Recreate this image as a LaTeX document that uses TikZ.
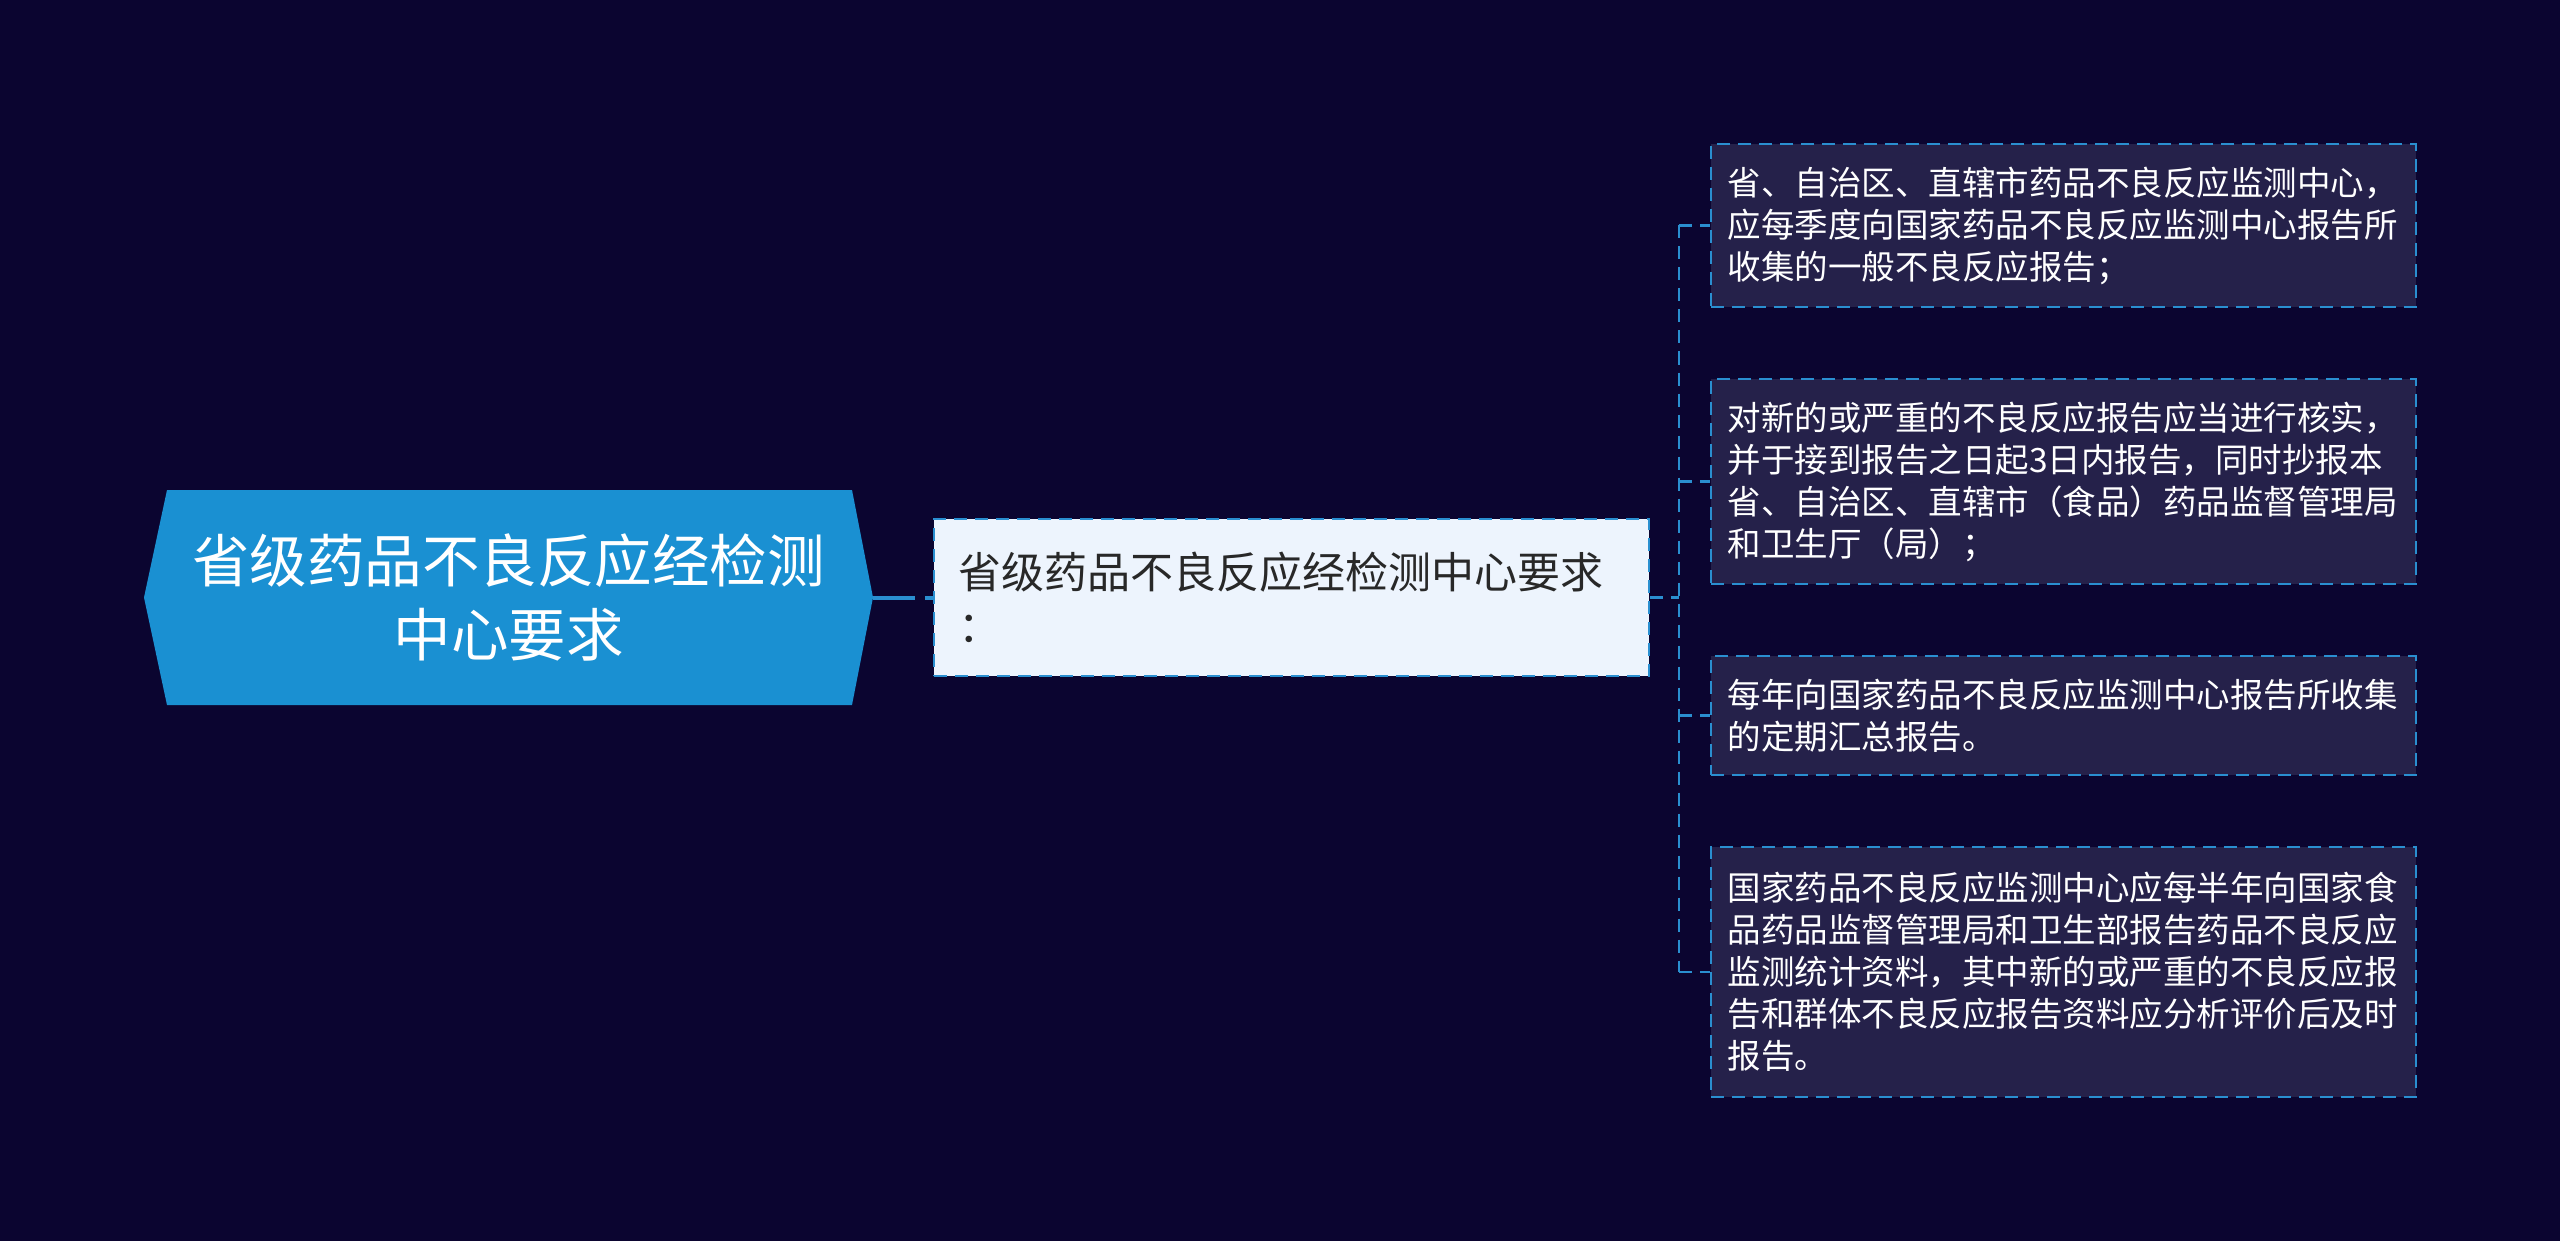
\documentclass[tikz,border=0pt]{standalone}
\usepackage{fontspec}
\newfontfamily\cjk{Noto Sans CJK SC}
\definecolor{bg}{RGB}{11,5,48}
\definecolor{rootblue}{RGB}{26,144,210}
\definecolor{midfill}{RGB}{237,244,253}
\definecolor{boxfill}{RGB}{37,33,74}
\definecolor{lineblue}{RGB}{42,143,208}
\definecolor{darktext}{RGB}{40,40,40}
\tikzset{
  rootnode/.style={draw=none, minimum width=364.5pt, minimum height=107.5pt, align=center, text=white,
    font={\cjk\fontsize{28.75pt}{37pt}\selectfont}},
  midnode/.style={draw=lineblue, fill=midfill, line width=1.3pt, dash pattern=on 6.5pt off 4pt,
    minimum width=357.5pt, minimum height=78.5pt, text width=333.5pt, inner xsep=12pt, inner ysep=0pt, align=left,
    text=darktext, font={\cjk\fontsize{21.5pt}{27pt}\selectfont}},
  rightnode/.style={draw=lineblue, fill=boxfill, line width=1.3pt, dash pattern=on 6.5pt off 4pt,
    text width=336pt, inner xsep=8.25pt, inner ysep=0pt, align=left, text=white,
    font={\cjk\fontsize{16.75pt}{21pt}\selectfont}},
  connthick/.style={draw=lineblue, line width=2pt, dash pattern=on 21pt off 5pt},
  conn/.style={draw=lineblue, line width=1.3pt, dash pattern=on 6.5pt off 4pt},
}
\begin{document}
\begin{tikzpicture}[x=0.5pt,y=-0.5pt]
\useasboundingbox[fill=bg] (0,0) rectangle (2560,1241);
% root hexagon shape
\fill[rootblue] (144,597.5) -- (167,490) -- (852,490) -- (873,597.5) -- (852,705) -- (167,705) -- cycle;
\node[rootnode] (root) at (508.5,597.5) {省级药品不良反应经检测\\中心要求};
\node[midnode] (mid) at (1291.5,597.5) {省级药品不良反应经检测中心要求\\：};
\node[rightnode, minimum height=81.5pt] (r1) at (2063.5,225.5) {省、自治区、直辖市药品不良反应监测中心，\\应每季度向国家药品不良反应监测中心报告所\\收集的一般不良反应报告；};
\node[rightnode, minimum height=102.5pt] (r2) at (2063.5,481.5) {对新的或严重的不良反应报告应当进行核实，\\并于接到报告之日起3日内报告，同时抄报本\\省、自治区、直辖市（食品）药品监督管理局\\和卫生厅（局）；};
\node[rightnode, minimum height=59.5pt] (r3) at (2063.5,715.5) {每年向国家药品不良反应监测中心报告所收集\\的定期汇总报告。};
\node[rightnode, minimum height=125pt] (r4) at (2063.5,972) {国家药品不良反应监测中心应每半年向国家食\\品药品监督管理局和卫生部报告药品不良反应\\监测统计资料，其中新的或严重的不良反应报\\告和群体不良反应报告资料应分析评价后及时\\报告。};
\draw[connthick] (root.east) -- (mid.west);
\coordinate (j) at (1679,597.5);
\draw[conn] (mid.east) -- (j);
\draw[conn] (j |- r1.west) -- (j |- r4.west);
\draw[conn] (j |- r1.west) -- (r1.west);
\draw[conn] (j |- r2.west) -- (r2.west);
\draw[conn] (j |- r3.west) -- (r3.west);
\draw[conn] (j |- r4.west) -- (r4.west);
\end{tikzpicture}
\end{document}
